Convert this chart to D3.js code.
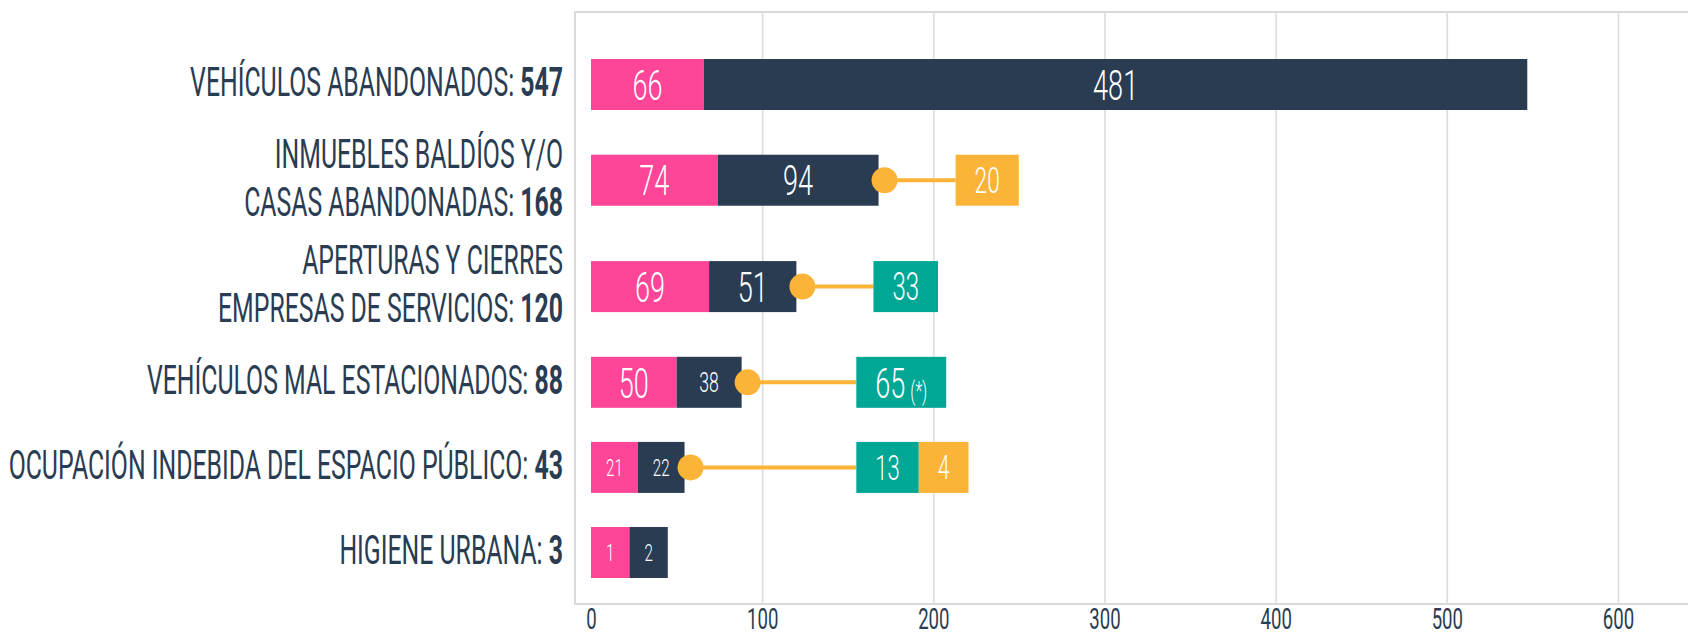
<!DOCTYPE html>
<html><head><meta charset="utf-8">
<script src="https://cdn.jsdelivr.net/npm/d3@7"></script>
<style>html,body{margin:0;padding:0;background:#fff;} svg{display:block;}</style>
</head><body>
<svg id="chart" width="1688" height="636"></svg>
<script>
// ---------- data ----------
const categories = [
  "VEHÍCULOS ABANDONADOS",
  "INMUEBLES BALDÍOS Y/O CASAS ABANDONADAS",
  "APERTURAS Y CIERRES EMPRESAS DE SERVICIOS",
  "VEHÍCULOS MAL ESTACIONADOS",
  "OCUPACIÓN INDEBIDA DEL ESPACIO PÚBLICO",
  "HIGIENE URBANA"
];
const labelLines = [
  ["VEHÍCULOS ABANDONADOS:"],
  ["INMUEBLES BALDÍOS Y/O", "CASAS ABANDONADAS:"],
  ["APERTURAS Y CIERRES", "EMPRESAS DE SERVICIOS:"],
  ["VEHÍCULOS MAL ESTACIONADOS:"],
  ["OCUPACIÓN INDEBIDA DEL ESPACIO PÚBLICO:"],
  ["HIGIENE URBANA:"]
];
const totals       = [547, 168, 120, 88, 43, 3];
const pinkValues   = [66, 74, 69, 50, 21, 1];
const navyValues   = [481, 94, 51, 38, 22, 2];
const tealValues   = [null, null, 33, 65, 13, null];
const orangeValues = [null, 20, null, null, 4, null];
const tealNotes    = [null, null, null, "(*)", null, null];
const xTicks       = [0, 100, 200, 300, 400, 500, 600];

// ---------- style ----------
const PINK = "#fe4597", NAVY = "#293c52", TEAL = "#00a795", ORANGE = "#fbb437";
const GRID = "#dcdcdc", FRAME = "#d9d9d9";
const FONT = "Roboto, 'Open Sans', 'DejaVu Sans', sans-serif";
const SX = 0.63;   // horizontal condensing of box text
const SXL = 0.605; // condensing of category labels

const svg = d3.select("#chart");
const W = 1688, H = 636;
const plot = {left: 575, top: 12, bottom: 604};

const x = d3.scaleLinear().domain([0, 600]).range([591, 1618]);

// row centers: rows with two label lines take a bit more room
const weights = labelLines.map(l => l.length > 1 ? 1.25 : 1);
const units = [];
let acc = 0;
weights.forEach(w => { units.push(acc + w / 2); acc += w; });
const yU = d3.scaleLinear().domain([units[0], units[units.length - 1]]).range([84.5, 552.5]);
const yc = i => yU(units[i]);
const barH = 51;

// measuring helper
const tmp = svg.append("text").attr("font-family", FONT).attr("visibility", "hidden");
function measure(str, size, weight) {
  tmp.attr("font-size", size).attr("font-weight", weight).text(str);
  return tmp.node().getComputedTextLength() * SX;
}
function ctext(g, str, cx, baseline, size, weight, fill, anchor) {
  return g.append("text")
    .attr("transform", `translate(${cx},${baseline}) scale(${SX},1)`)
    .attr("text-anchor", anchor || "middle")
    .attr("font-family", FONT)
    .attr("font-size", size)
    .attr("font-weight", weight)
    .attr("fill", fill)
    .text(str);
}

// ---------- frame & grid ----------
svg.append("rect")
  .attr("x", plot.left).attr("y", plot.top)
  .attr("width", W - plot.left + 20).attr("height", plot.bottom - plot.top)
  .attr("fill", "none").attr("stroke", FRAME).attr("stroke-width", 2);

const axis = svg.append("g")
  .attr("transform", `translate(0,${plot.bottom})`)
  .call(d3.axisBottom(x).tickValues(xTicks).tickSize(-(plot.bottom - plot.top)).tickFormat(d3.format("d")));
axis.select(".domain").remove();
axis.selectAll(".tick line")
  .attr("stroke", GRID).attr("stroke-width", 1.6)
  .attr("display", d => d === 0 ? "none" : null);
axis.selectAll(".tick text")
  .attr("y", 25).attr("dy", 0)
  .attr("transform", `scale(0.62,1)`)
  .attr("font-family", FONT).attr("font-size", 30).attr("font-weight", 400)
  .attr("fill", NAVY);

// ---------- rows ----------
const fontFor = w => w < 50 ? 24 : (w < 75 ? 28 : 43);
const sideFont = d3.scaleLinear().domain([0, 65]).range([33, 43]);
const marks = svg.append("g");

categories.forEach((cat, i) => {
  const cy = yc(i);
  const g = marks.append("g");

  // stacked bar
  let cursor = x(0);
  [[pinkValues[i], PINK], [navyValues[i], NAVY]].forEach(([v, col]) => {
    const raw = x(v) - x(0);
    const fs = fontFor(raw);
    const w = Math.max(raw, measure(String(v), fs, 300) + 30);
    g.append("rect").attr("x", cursor).attr("y", cy - barH / 2)
      .attr("width", w).attr("height", barH).attr("fill", col);
    ctext(g, String(v), cursor + w / 2, cy + 0.355 * fs, fs, 300, "#fff");
    cursor += w;
  });

  // connector + side boxes
  const side = [[tealValues[i], TEAL, tealNotes[i]], [orangeValues[i], ORANGE, null]].filter(d => d[0] != null);
  if (side.length) {
    const dotX = cursor + 6;
    let bx = Math.max(x(155), x(totals[i] + 45));
    g.append("line").attr("x1", dotX).attr("x2", bx).attr("y1", cy).attr("y2", cy)
      .attr("stroke", ORANGE).attr("stroke-width", 4);
    g.append("circle").attr("cx", dotX).attr("cy", cy).attr("r", 13).attr("fill", ORANGE);
    side.forEach(([v, col, note]) => {
      const fs = sideFont(v);
      const tw = measure(String(v), fs, 300);
      const nw = note ? measure(note, 25, 300) + 5 : 0;
      const w = tw + nw + 38;
      g.append("rect").attr("x", bx).attr("y", cy - barH / 2)
        .attr("width", w).attr("height", barH).attr("fill", col);
      ctext(g, String(v), bx + 19 + tw / 2, cy + 0.355 * fs, fs, 300, "#fff");
      if (note) {
        ctext(g, note, bx + 19 + tw + 5 + (nw - 5) / 2, cy + 0.355 * fs + 2, 25, 300, "#fff");
      }
      bx += w;
    });
  }

  // category label
  const lines = labelLines[i];
  const lh = 47.5, fsL = 41;
  const blockC = cy - 3;
  lines.forEach((ln, k) => {
    const c = blockC + (k - (lines.length - 1) / 2) * lh;
    const t = g.append("text")
      .attr("transform", `translate(563,${c + 0.355 * fsL}) scale(${SXL},1)`)
      .attr("text-anchor", "end")
      .attr("font-family", FONT).attr("font-size", fsL)
      .attr("fill", NAVY);
    t.append("tspan").attr("font-weight", 400).text(ln);
    if (k === lines.length - 1) {
      t.append("tspan").attr("font-weight", 700).text(" " + totals[i]);
    }
  });
});
tmp.remove();
</script>
</body></html>
